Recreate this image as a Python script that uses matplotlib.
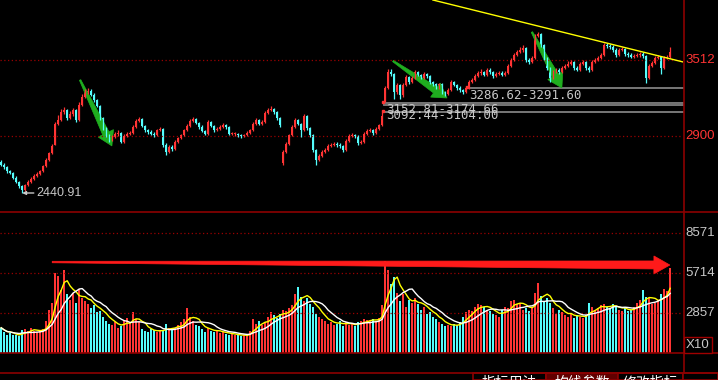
import numpy as np
import pandas as pd
import matplotlib
matplotlib.use('Agg')
import matplotlib.pyplot as plt
from matplotlib.patches import Polygon, Rectangle
from matplotlib.lines import Line2D
from matplotlib.transforms import IdentityTransform

plt.rcParams['font.family'] = ['Liberation Sans', 'Noto Sans CJK SC', 'DejaVu Sans']

# --- data (daily candles, index = trading day) ---
opens = [2690, 2666, 2650, 2618, 2602, 2562, 2530, 2497, 2465, 2506,
         2530, 2554, 2578, 2594, 2618, 2658, 2707, 2763, 2830, 2997,
         3029, 3093, 3109, 3045, 3077, 3109, 3029, 3150, 3214, 3254,
         3262, 3230, 3190, 3142, 3045, 2964, 2908, 2868, 2892, 2916,
         2924, 2852, 2900, 2916, 2924, 2973, 3021, 3037, 2981, 2948,
         2932, 2916, 2908, 2948, 2956, 2828, 2771, 2812, 2795, 2852,
         2884, 2908, 2948, 2981, 3021, 3037, 3005, 2973, 2940, 2916,
         3013, 2981, 2948, 2956, 2973, 2989, 2973, 2916, 2916, 2916,
         2908, 2900, 2908, 2924, 2948, 2997, 3029, 2997, 3013, 3085,
         3109, 3117, 3093, 3045, 2680, 2770, 2836, 2908, 2973, 3029,
         2997, 2948, 3061, 2964, 2908, 2787, 2707, 2739, 2771, 2787,
         2820, 2828, 2836, 2828, 2820, 2787, 2860, 2900, 2908, 2900,
         2844, 2852, 2916, 2940, 2948, 2924, 2956, 2989, 3185, 3287,
         3415, 3399, 3254, 3311, 3230, 3311, 3375, 3335, 3367, 3415,
         3391, 3367, 3399, 3383, 3335, 3319, 3287, 3319, 3254, 3238,
         3270, 3335, 3311, 3287, 3270, 3254, 3287, 3335, 3351, 3383,
         3407, 3415, 3391, 3432, 3415, 3383, 3399, 3407, 3391, 3407,
         3464, 3512, 3552, 3576, 3593, 3609, 3512, 3496, 3528, 3705,
         3721, 3633, 3528, 3448, 3367, 3415, 3432, 3415, 3448, 3464,
         3480, 3496, 3448, 3432, 3480, 3496, 3448, 3432, 3496, 3512,
         3528, 3552, 3633, 3625, 3617, 3593, 3552, 3593, 3601, 3560,
         3552, 3536, 3544, 3552, 3560, 3544, 3367, 3464, 3488, 3528,
         3536, 3448, 3528, 3536]

highs = [2705, 2680, 2662, 2630, 2612, 2575, 2540, 2505, 2515, 2545,
         2566, 2590, 2610, 2630, 2670, 2720, 2775, 2835, 3010, 3070,
         3115, 3130, 3120, 3100, 3125, 3115, 3170, 3235, 3280, 3290,
         3280, 3245, 3200, 3150, 3055, 2975, 2920, 2905, 2930, 2945,
         2935, 2915, 2935, 2940, 2985, 3035, 3055, 3045, 2990, 2960,
         2945, 2930, 2960, 2975, 2965, 2840, 2825, 2825, 2865, 2895,
         2920, 2960, 2995, 3035, 3055, 3045, 3015, 2985, 2950, 3030,
         3020, 2990, 2970, 2985, 3005, 3000, 2980, 2930, 2930, 2925,
         2920, 2920, 2940, 2960, 3010, 3045, 3040, 3030, 3100, 3125,
         3140, 3125, 3100, 3055, 2785, 2850, 2920, 2985, 3045, 3040,
         3005, 3080, 3070, 2975, 2915, 2795, 2755, 2785, 2805, 2835,
         2845, 2855, 2850, 2840, 2830, 2875, 2915, 2925, 2920, 2910,
         2870, 2930, 2955, 2965, 2960, 2970, 3000, 3092, 3305, 3440,
         3440, 3410, 3330, 3320, 3325, 3395, 3385, 3380, 3435, 3425,
         3400, 3415, 3410, 3395, 3345, 3330, 3330, 3330, 3265, 3285,
         3350, 3345, 3320, 3300, 3280, 3300, 3350, 3370, 3400, 3425,
         3440, 3425, 3450, 3445, 3425, 3415, 3425, 3420, 3420, 3480,
         3530, 3570, 3595, 3615, 3630, 3620, 3525, 3545, 3720, 3740,
         3730, 3640, 3535, 3455, 3430, 3450, 3445, 3465, 3480, 3500,
         3515, 3505, 3460, 3495, 3515, 3505, 3460, 3510, 3530, 3545,
         3570, 3650, 3650, 3640, 3630, 3605, 3610, 3620, 3610, 3575,
         3565, 3560, 3570, 3575, 3575, 3555, 3480, 3505, 3545, 3555,
         3545, 3545, 3555, 3620]

lows = [2655, 2635, 2605, 2590, 2550, 2518, 2480, 2441, 2455, 2498,
        2520, 2545, 2570, 2585, 2610, 2650, 2700, 2755, 2825, 2985,
        3020, 3080, 3030, 3035, 3065, 3010, 3020, 3140, 3205, 3240,
        3220, 3175, 3130, 3030, 2950, 2890, 2850, 2860, 2880, 2900,
        2840, 2845, 2890, 2905, 2915, 2965, 3010, 2970, 2935, 2920,
        2905, 2895, 2900, 2940, 2815, 2745, 2760, 2780, 2785, 2840,
        2875, 2900, 2940, 2975, 3010, 2995, 2960, 2930, 2905, 2910,
        2970, 2935, 2940, 2945, 2965, 2960, 2905, 2905, 2900, 2895,
        2885, 2890, 2900, 2915, 2940, 2990, 2985, 2990, 3005, 3075,
        3100, 3080, 3030, 2975, 2665, 2760, 2825, 2900, 2965, 2985,
        2890, 2940, 2950, 2890, 2770, 2670, 2700, 2730, 2765, 2780,
        2810, 2820, 2815, 2805, 2775, 2780, 2850, 2890, 2885, 2830,
        2835, 2845, 2905, 2930, 2910, 2915, 2945, 2980, 3175, 3280,
        3380, 3200, 3240, 3200, 3215, 3300, 3320, 3325, 3355, 3380,
        3355, 3355, 3370, 3320, 3305, 3275, 3275, 3240, 3225, 3230,
        3260, 3300, 3270, 3255, 3240, 3245, 3280, 3325, 3340, 3375,
        3395, 3380, 3385, 3400, 3370, 3375, 3390, 3380, 3380, 3400,
        3455, 3500, 3545, 3565, 3580, 3495, 3480, 3485, 3520, 3695,
        3620, 3510, 3430, 3335, 3355, 3405, 3400, 3405, 3440, 3455,
        3470, 3435, 3420, 3425, 3470, 3435, 3415, 3425, 3485, 3505,
        3520, 3545, 3610, 3600, 3580, 3540, 3545, 3585, 3545, 3540,
        3525, 3525, 3535, 3540, 3530, 3330, 3355, 3455, 3480, 3520,
        3400, 3440, 3520, 3530]

closes = [2666, 2650, 2618, 2602, 2562, 2530, 2497, 2465, 2506, 2530,
          2554, 2578, 2594, 2618, 2658, 2707, 2763, 2820, 2997, 3029,
          3093, 3109, 3045, 3077, 3109, 3029, 3150, 3214, 3254, 3262,
          3230, 3190, 3142, 3045, 2964, 2908, 2868, 2892, 2916, 2924,
          2852, 2900, 2916, 2924, 2973, 3021, 3037, 2981, 2948, 2932,
          2916, 2908, 2948, 2956, 2828, 2771, 2812, 2795, 2852, 2884,
          2908, 2948, 2981, 3021, 3037, 3005, 2973, 2940, 2916, 3013,
          2981, 2948, 2956, 2973, 2989, 2973, 2916, 2916, 2916, 2908,
          2900, 2908, 2924, 2948, 2997, 3029, 2997, 3013, 3085, 3109,
          3117, 3093, 3045, 2989, 2770, 2836, 2908, 2973, 3029, 2997,
          2948, 3061, 2964, 2908, 2787, 2707, 2739, 2771, 2787, 2820,
          2828, 2836, 2828, 2820, 2787, 2860, 2900, 2908, 2900, 2844,
          2852, 2916, 2940, 2948, 2924, 2956, 2989, 3061, 3287, 3415,
          3399, 3254, 3311, 3230, 3311, 3375, 3335, 3367, 3415, 3391,
          3367, 3399, 3383, 3335, 3319, 3287, 3319, 3254, 3238, 3270,
          3335, 3311, 3287, 3270, 3254, 3287, 3335, 3351, 3383, 3407,
          3415, 3391, 3432, 3415, 3383, 3399, 3407, 3391, 3407, 3464,
          3512, 3552, 3576, 3593, 3609, 3512, 3496, 3528, 3705, 3721,
          3633, 3528, 3448, 3367, 3415, 3432, 3415, 3448, 3464, 3480,
          3496, 3448, 3432, 3480, 3496, 3448, 3432, 3496, 3512, 3528,
          3552, 3633, 3625, 3617, 3593, 3552, 3593, 3601, 3560, 3552,
          3536, 3544, 3552, 3560, 3544, 3367, 3464, 3488, 3528, 3536,
          3448, 3528, 3536, 3576]

volumes = [1800, 1500, 1300, 1400, 1250, 1300, 1200, 1650, 1700, 1550,
           1800, 1600, 1500, 1550, 1700, 2300, 3100, 3600, 5700, 5500,
           4500, 5900, 4200, 3800, 4300, 3600, 4600, 3900, 3700, 3500,
           3200, 3400, 2900, 3000, 2600, 2300, 2100, 2000, 2200, 1800,
           1900, 2300, 2500, 2100, 2900, 2400, 2200, 1700, 1600, 1500,
           1700, 1650, 1500, 1600, 1550, 2100, 1800, 1700, 1800, 2000,
           2200, 2400, 3200, 2600, 2300, 2000, 1900, 1700, 1500, 1800,
           1600, 1500, 1600, 1400, 1500, 1350, 1300, 1400, 1250, 1300,
           1200, 1250, 1300, 1600, 2400, 2100, 2300, 2000, 2200, 2600,
           2900, 2700, 2500, 2800, 3100, 3000, 3200, 3400, 4200, 4700,
           4000, 3700, 3900, 3500, 3300, 2800, 2600, 2400, 2300, 2100,
           2200, 2000, 2100, 2300, 1900, 2200, 2000, 2100, 1900, 2200,
           2300, 2400, 2350, 2300, 2450, 2300, 2500, 3400, 6600, 5900,
           4900, 5400, 4300, 3700, 4200, 3300, 3800, 3600, 3900, 3500,
           3100, 3300, 2800, 2900, 2600, 2400, 2200, 2100, 1900, 2000,
           1900, 2100, 2000, 2200, 2600, 2900, 3100, 3000, 3300, 3500,
           3400, 3300, 3100, 3000, 2800, 2700, 2600, 3100, 3300, 3200,
           3700, 3800, 3500, 3600, 3100, 3200, 3000, 3300, 4300, 5000,
           4100, 3700, 3900, 3600, 3200, 2800, 3100, 2900, 2700, 2600,
           2800, 2500, 2700, 2600, 2500, 2700, 3600, 3300, 3100, 3200,
           3400, 3500, 3300, 3200, 3500, 3300, 3100, 3000, 3200, 3000,
           3100, 3300, 3600, 3800, 4500, 4000, 3900, 3500, 3600, 3800,
           4200, 4600, 4400, 6100]

price_ticks = [3512, 2900]
vol_ticks = [8571, 5714, 2857]
low_label = '2440.91'
# unfilled gaps: (first day, lower, upper)
gaps = [(127.3, 3152.81, 3174.66), (127.3, 3092.44, 3104.00), (155.3, 3286.62, 3291.60)]
gap_labels = ['3152.81-3174.66', '3092.44-3104.00', '3286.62-3291.60']
trend_line = [(143.9, 3995), (227.3, 3496)]
tabs = ['指标用法', '均线参数', '修改指标']

RED = '#ff3434'
CYAN = '#54fcfc'
GRID = '#9a0000'
FRAME = '#8c0000'
LABEL = '#c8c8c8'

o = np.array(opens)
h = np.array(highs)
l = np.array(lows)
c = np.array(closes)
v = np.array(volumes)
days = np.arange(len(c))
up = c >= o
colors = np.where(up, RED, CYAN)

W, H = 718, 380
fig = plt.figure(figsize=(W / 100, H / 100), dpi=100, facecolor='black')


def fx(px):
    return px / W


def fy(py):
    return 1 - py / H


ax = fig.add_axes([0, fy(212), fx(683), fy(0) - fy(212)])
axv = fig.add_axes([0, fy(353), fx(683), fy(212) - fy(353)])
for a in (ax, axv):
    a.set_facecolor('black')
    a.set_axis_off()
    a.set_xlim(-0.4, 227.27)
ax.set_ylim(2288, 3995)
axv.set_ylim(0, 10070)

# grid lines and right-hand labels
for t in price_ticks:
    ax.axhline(t, color=GRID, ls=(0, (1, 2)), lw=0.9)
    ax.text(1.004, t, str(t), transform=ax.get_yaxis_transform(), color=RED,
            fontsize=9.5, va='center', ha='left', clip_on=False)
for t in vol_ticks:
    axv.axhline(t, color=GRID, ls=(0, (1, 2)), lw=0.9)
    axv.text(1.004, t, str(t), transform=axv.get_yaxis_transform(), color=LABEL,
             fontsize=9.5, va='center', ha='left', clip_on=False)

# candles
ax.vlines(days, l, h, colors=colors, lw=0.9)
body = np.maximum(np.abs(c - o), 9)
ax.bar(days, body, bottom=np.minimum(o, c), width=0.75, color=colors, linewidth=0)

# gap zones
for start, lo, hi in gaps:
    ax.fill_between([start, 230], lo, hi, color='#707070', lw=0.6, edgecolor='#808080')
    ax.plot([start], [hi], marker='s', ms=2, color=RED)
ax.text(gaps[0][0] + 1.0, 3162, gap_labels[0], color=LABEL, fontsize=8.9,
        family='DejaVu Sans Mono', va='top', ha='left')
ax.text(gaps[1][0] + 1.0, 3118, gap_labels[1], color=LABEL, fontsize=8.9,
        family='DejaVu Sans Mono', va='top', ha='left')
ax.text(gaps[2][0] + 0.6, 3280, gap_labels[2], color=LABEL, fontsize=8.9,
        family='DejaVu Sans Mono', va='top', ha='left')

# trend line
ax.plot([p[0] for p in trend_line], [p[1] for p in trend_line], color='#ffff00', lw=1)

# lowest price marker
low_day = int(np.argmin(l))
ax.annotate(low_label, xy=(low_day, l[low_day]), xytext=(low_day + 4.8, l[low_day]),
            color=LABEL, fontsize=9, va='center', ha='left',
            arrowprops=dict(arrowstyle='-|>', color=LABEL, lw=1,
                            mutation_scale=5, shrinkA=0, shrinkB=0))

# volume bars and averages
axv.bar(days, v, width=0.72, color=colors, linewidth=0)
vs = pd.Series(v)
axv.plot(days, vs.rolling(5, min_periods=1).mean(), color='#ffff00', lw=1)
axv.plot(days, vs.rolling(10, min_periods=1).mean(), color='white', lw=1)


def tapered_arrow(a, p0, p1, w0, w1, head_w, head_len, color):
    s = a.transData.transform(p0)
    e = a.transData.transform(p1)
    d = e - s
    u = d / np.hypot(*d)
    n = np.array([-u[1], u[0]])
    base = e - u * head_len
    pts = [s + n * w0 / 2, base + n * w1 / 2, base + n * head_w / 2, e,
           base - n * head_w / 2, base - n * w1 / 2, s - n * w0 / 2]
    a.add_patch(Polygon(pts, closed=True, transform=IdentityTransform(),
                        facecolor=color, edgecolor=color, lw=0.5))


green = '#1fae1f'
tapered_arrow(ax, (26.3, 3351), (36.9, 2820), 1.5, 7, 17, 14, green)
tapered_arrow(ax, (130.6, 3504), (148.6, 3206), 1.5, 7, 17, 14, green)
tapered_arrow(ax, (176.9, 3737), (186.9, 3287), 1.5, 7, 17, 14, green)
tapered_arrow(axv, (17, 6497), (222.9, 6283), 1.5, 8, 18, 16, '#ff1a1a')

# frame lines
for py in (212, 353, 373):
    fig.add_artist(Line2D([0, 1], [fy(py), fy(py)], color=FRAME, lw=1.2))
fig.add_artist(Line2D([fx(683.5), fx(683.5)], [fy(373), 1], color=FRAME, lw=1.2))

fig.text(fx(686), fy(345), 'X10', color=LABEL, fontsize=9.5, va='center', ha='left',
         bbox=dict(boxstyle='square,pad=0.15', fc='black', ec='#a00000', lw=1))

# tabs at the bottom (cut off by the edge, as in the source screenshot)
tab_edges = [473, 546, 618, 683, 718]
for k in range(4):
    fc = '#600000' if k == 1 else 'black'
    fig.add_artist(Rectangle((fx(tab_edges[k]), 0), fx(tab_edges[k + 1] - tab_edges[k]), fy(373),
                             transform=fig.transFigure, fc=fc, ec=FRAME, lw=1.2))
for k, name in enumerate(tabs):
    fig.text(fx((tab_edges[k] + tab_edges[k + 1]) / 2), fy(376), name, color='white',
             fontsize=10, ha='center', va='top', family=['Noto Sans CJK SC'])

fig.savefig('out.png', dpi=100, facecolor='black')
